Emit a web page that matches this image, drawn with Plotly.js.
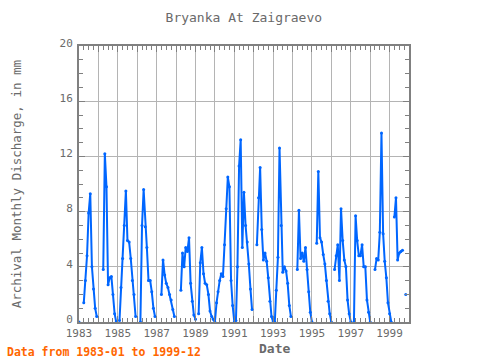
<!DOCTYPE html>
<html>
<head>
<meta charset="utf-8">
<script src="https://cdn.plot.ly/plotly-3.0.1.min.js"></script>
<style>html,body{margin:0;padding:0;background:#fff;}#chart{width:480px;height:360px;}</style>
</head>
<body>
<div id="chart"></div>
<script>
// Monthly values (Jan..Dec), null = missing month
const years = [1983,1984,1985,1986,1987,1988,1989,1990,1991,1992,1993,1994,1995,1996,1997,1998,1999];
const v1983 = [0, null, null, 1.4, 3.0, 4.8, 7.9, 9.3, 4.0, 2.4, 1.0, 0.4];
const v1984 = [null, null, null, 3.8, 12.2, 9.8, 2.7, 3.2, 3.3, 2.0, 0.6, 0.0];
const v1985 = [null, 0.1, 2.5, 4.6, 7.0, 9.5, 5.9, 5.8, 4.6, 3.0, 2.0, 0.4];
const v1986 = [null, null, 0.0, 7.0, 9.6, 6.9, 5.4, 3.0, 3.0, 2.2, 1.0, 0.4];
const v1987 = [null, null, null, 2.0, 4.5, 3.4, 2.8, 2.5, 2.0, 1.6, 0.9, 0.4];
const v1988 = [null, null, null, 2.3, 5.0, 4.0, 5.4, 5.1, 6.1, 2.8, 1.5, 0.5];
const v1989 = [0.2, null, 0.6, 4.3, 5.4, 3.5, 2.8, 2.7, 2.0, 0.8, 0.4, 0.2];
const v1990 = [0, 1.4, 2.2, 3.0, 3.5, 3.3, 5.6, 8.2, 10.5, 9.8, 3.0, 1.2];
const v1991 = [0, 0.1, 4.0, 11.3, 13.2, 5.4, 9.4, 7.0, 5.8, 4.2, 2.4, 0.9];
const v1992 = [null, null, 5.6, 9.0, 11.2, 6.7, 4.5, 5.0, 4.4, 3.2, 1.5, 0.4];
const v1993 = [0, 0, 2.3, 4.7, 12.6, 7.0, 3.6, 4.0, 3.7, 2.8, 1.2, 0.4];
const v1994 = [null, null, null, 3.8, 8.1, 4.6, 5.0, 4.4, 5.4, 3.8, 2.2, 0.7];
const v1995 = [0, null, null, 5.7, 10.9, 6.1, 5.8, 4.9, 4.2, 3.0, 1.5, 0.6];
const v1996 = [0, null, 3.8, 4.8, 5.6, 3.0, 8.2, 5.9, 4.5, 4.0, 1.6, 0.6];
const v1997 = [0, null, 0, 7.7, 5.9, 4.8, 4.8, 5.6, 4.0, 4.0, 1.6, 0.7];
const v1998 = [0, null, null, 3.8, 4.6, 4.5, 6.5, 13.7, 6.4, 4.4, 3.2, 1.4];
const v1999 = [0.6, 0, null, 7.6, 9.0, 4.5, 5.0, 5.1, 5.2, null, 2.0, null];
const series = [v1983,v1984,v1985,v1986,v1987,v1988,v1989,v1990,v1991,v1992,v1993,v1994,v1995,v1996,v1997,v1998,v1999];

const dates = [], vals = [];
years.forEach((yr, i) => {
  series[i].forEach((v, m) => {
    dates.push(yr + '-' + String(m + 1).padStart(2, '0') + '-01');
    vals.push(v);
  });
});

const gray = '#808080';
const txt = '#6a6a6a';
const mono = 'DejaVu Sans Mono, Liberation Mono, monospace';

const data = [
  {
    x: dates, y: vals, type: 'scatter', mode: 'lines+markers',
    line: {color: '#0066ff', width: 2},
    marker: {color: '#0066ff', size: 3},
    connectgaps: false, cliponaxis: false, hoverinfo: 'skip'
  },
  { x: [dates[0]], y: [null], xaxis: 'x2', yaxis: 'y', type: 'scatter', mode: 'lines', hoverinfo: 'skip', showlegend: false }
];

const xr = ['1983-01-01', '2000-01-01'];
const layout = {
  width: 480, height: 360,
  margin: {l: 79, r: 71, t: 46, b: 38},
  paper_bgcolor: '#ffffff', plot_bgcolor: '#ffffff',
  showlegend: false,
  title: {text: 'Bryanka At Zaigraevo', xref: 'container', yref: 'container', x: 0.508, xanchor: 'center', y: 0.952, yanchor: 'middle', font: {family: mono, size: 13, color: txt}},
  xaxis: {
    type: 'date', range: xr, tick0: '1983-01-01', dtick: 'M24', tickformat: '%Y',
    ticks: 'inside', ticklen: 6, tickwidth: 1, tickcolor: gray,
    showgrid: true, gridcolor: '#b4b4b4', gridwidth: 1,
    minor: {dtick: 'M12', tick0: '1983-01-01', showgrid: true, gridcolor: '#b4b4b4', ticks: 'inside', ticklen: 6, tickcolor: gray},
    showline: true, linecolor: gray, linewidth: 2, mirror: 'ticks',
    zeroline: false,
    tickfont: {family: mono, size: 11, color: txt}
  },
  xaxis2: {
    type: 'date', range: xr, overlaying: 'x', side: 'bottom', tick0: '1983-01-01', dtick: 'M3',
    ticks: 'inside', ticklen: 4, tickwidth: 1, tickcolor: gray, showticklabels: false,
    showgrid: false, showline: false, mirror: 'ticks', zeroline: false
  },
  yaxis: {
    range: [0, 20], dtick: 4, tick0: 0,
    ticks: 'inside', ticklen: 6, tickwidth: 1, tickcolor: gray,
    showgrid: true, gridcolor: '#b4b4b4', gridwidth: 1,
    minor: {dtick: 1, ticks: 'inside', ticklen: 4, tickcolor: gray, showgrid: false},
    showline: true, linecolor: gray, linewidth: 2, mirror: 'ticks',
    zeroline: false, ticklabelshift: -3, ticklabelstandoff: 2,
    tickfont: {family: mono, size: 11, color: txt}
  },
  annotations: [
    {text: 'Archival Monthly Discharge, in mm', xref: 'paper', yref: 'paper', x: -0.19, y: 0.5, xanchor: 'center', yanchor: 'middle', textangle: -90, showarrow: false, font: {family: mono, size: 12.5, color: txt}},
    {text: '<b>Date</b>', xref: 'paper', yref: 'paper', x: (274 - 79) / 330, y: (322 - 348) / 276, xanchor: 'center', yanchor: 'middle', showarrow: false, font: {family: mono, size: 13, color: txt}},
    {text: '<b>Data from 1983-01 to 1999-12</b>', xref: 'paper', yref: 'paper', x: (5 - 79) / 330, y: (322 - 352) / 276, xanchor: 'left', yanchor: 'middle', showarrow: false, font: {family: mono, size: 11.5, color: '#ff6600'}}
  ]
};

Plotly.newPlot('chart', data, layout, {staticPlot: true, displayModeBar: false});
</script>
</body>
</html>
